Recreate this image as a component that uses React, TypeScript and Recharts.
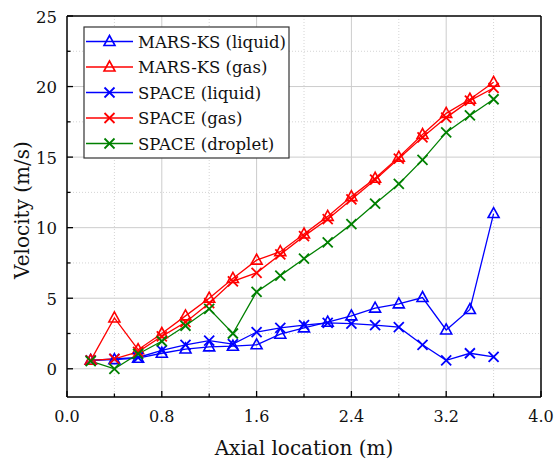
import React from 'react';
import { LineChart, Line, XAxis, YAxis, CartesianGrid, ReferenceLine } from 'recharts';

const xs = [0.2, 0.4, 0.6, 0.8, 1.0, 1.2, 1.4, 1.6, 1.8, 2.0, 2.2, 2.4, 2.6, 2.8, 3.0, 3.2, 3.4, 3.6];
const marsLiquid = [0.6, 0.65, 0.75, 1.1, 1.4, 1.55, 1.6, 1.7, 2.45, 2.9, 3.3, 3.75, 4.3, 4.6, 5.05, 2.75, 4.2, 11.0];
const marsGas = [0.6, 3.6, 1.35, 2.5, 3.75, 5.0, 6.4, 7.7, 8.3, 9.55, 10.8, 12.2, 13.5, 15.0, 16.6, 18.1, 19.1, 20.3];
const spaceLiquid = [0.6, 0.7, 0.8, 1.3, 1.7, 2.0, 1.75, 2.6, 2.9, 3.1, 3.25, 3.2, 3.1, 2.95, 1.7, 0.6, 1.1, 0.85];
const spaceGas = [0.6, 0.7, 1.2, 2.3, 3.3, 4.65, 6.2, 6.8, 8.1, 9.4, 10.6, 12.0, 13.4, 14.9, 16.4, 17.8, 19.0, 19.9];
const spaceDroplet = [0.55, 0.0, 1.05, 1.95, 3.05, 4.25, 2.5, 5.45, 6.6, 7.8, 8.95, 10.25, 11.7, 13.1, 14.8, 16.75, 17.95, 19.1];

const xTicks = [0, 0.4, 0.8, 1.2, 1.6, 2.0, 2.4, 2.8, 3.2, 3.6, 4.0];
const yTicks = [0, 2.5, 5, 7.5, 10, 12.5, 15, 17.5, 20, 22.5, 25];
const xMajor = [0.8, 1.6, 2.4, 3.2];
const xMinor = [0.4, 1.2, 2.0, 2.8, 3.6];
const yMajor = [0, 5, 10, 15, 20];
const yMinor = [2.5, 7.5, 12.5, 17.5, 22.5];

const seriesDefs = [
  { key: 'marsLiquid', name: 'MARS-KS (liquid)', color: '#0000ff', marker: 'tri' },
  { key: 'marsGas', name: 'MARS-KS (gas)', color: '#ff0000', marker: 'tri' },
  { key: 'spaceLiquid', name: 'SPACE (liquid)', color: '#0000ff', marker: 'x' },
  { key: 'spaceGas', name: 'SPACE (gas)', color: '#ff0000', marker: 'x' },
  { key: 'spaceDroplet', name: 'SPACE (droplet)', color: '#008000', marker: 'x' },
];

const data = xs.map((x, i) => ({
  x,
  marsLiquid: marsLiquid[i],
  marsGas: marsGas[i],
  spaceLiquid: spaceLiquid[i],
  spaceGas: spaceGas[i],
  spaceDroplet: spaceDroplet[i],
}));

const FONT = 'DejaVu Serif';

function Marker({ cx, cy, color, type }: any) {
  if (type === 'tri') {
    return (
      <polygon
        points={`${cx},${cy - 6} ${cx - 5.5},${cy + 4} ${cx + 5.5},${cy + 4}`}
        fill="none"
        stroke={color}
        strokeWidth={1.6}
      />
    );
  }
  const s = 5;
  return (
    <g stroke={color} strokeWidth={1.8}>
      <line x1={cx - s} y1={cy - s} x2={cx + s} y2={cy + s} />
      <line x1={cx - s} y1={cy + s} x2={cx + s} y2={cy - s} />
    </g>
  );
}

const isMult = (v: number, m: number) => Math.abs(v / m - Math.round(v / m)) < 1e-6;

function XTick(props: any) {
  const { x, y, payload } = props;
  const v = payload.value;
  const major = isMult(v, 0.8);
  return (
    <g>
      <line x1={x} x2={x} y1={y} y2={y - (major ? 6 : 3.5)} stroke="#000" strokeWidth={1.3} />
      {major && (
        <text x={x} y={y + 25} textAnchor="middle" style={{ fontFamily: FONT }} fontSize={16} fill="#111">
          {v.toFixed(1)}
        </text>
      )}
    </g>
  );
}

function YTick(props: any) {
  const { x, y, payload } = props;
  const v = payload.value;
  const major = isMult(v, 5);
  return (
    <g>
      <line x1={x} x2={x + (major ? 6 : 3.5)} y1={y} y2={y} stroke="#000" strokeWidth={1.3} />
      {major && (
        <text x={x - 10} y={y + 6.5} textAnchor="end" style={{ fontFamily: FONT }} fontSize={16.5} fill="#111">
          {String(v)}
        </text>
      )}
    </g>
  );
}

export default function App() {
  const legendTop = 27;
  const legendLeft = 84;
  const rowH = 25.5;
  return (
    <div style={{ position: 'absolute', left: 0, top: 0, width: 555, height: 466, background: '#fff' }}>
      <LineChart width={555} height={466} data={data} margin={{ top: 16, right: 14, left: 0, bottom: 0 }}>
        <CartesianGrid
          horizontalValues={yMajor}
          verticalValues={xMajor}
          stroke="#cccccc"
          strokeWidth={1}
        />
        <CartesianGrid
          horizontalValues={yMinor}
          verticalValues={xMinor}
          stroke="#d4d4d4"
          strokeDasharray="1 2"
          strokeWidth={1}
        />
        <XAxis
          dataKey="x"
          type="number"
          domain={[0, 4]}
          ticks={xTicks}
          interval={0}
          height={69}
          tickSize={0}
          tickMargin={0}
          tickLine={false}
          tick={<XTick />}
          axisLine={{ stroke: '#000', strokeWidth: 1.5 }}
          allowDataOverflow
        />
        <YAxis
          type="number"
          domain={[-2, 25]}
          ticks={yTicks}
          interval={0}
          width={67}
          tickSize={0}
          tickMargin={0}
          tickLine={false}
          tick={<YTick />}
          axisLine={{ stroke: '#000', strokeWidth: 1.5 }}
          allowDataOverflow
        />
        <ReferenceLine y={25} stroke="#000" strokeWidth={1.5} />
        <ReferenceLine x={4} stroke="#000" strokeWidth={1.5} />
        {seriesDefs.map((s) => (
          <Line
            key={s.key}
            dataKey={s.key}
            name={s.name}
            stroke={s.color}
            strokeWidth={1.3}
            isAnimationActive={false}
            dot={(p: any) => <Marker key={`${s.key}-${p.index}`} cx={p.cx} cy={p.cy} color={s.color} type={s.marker} />}
            activeDot={false}
          />
        ))}
      </LineChart>
      <svg
        width={555}
        height={466}
        style={{ position: 'absolute', left: 0, top: 0, pointerEvents: 'none' }}
      >
        <text x={304} y={455} textAnchor="middle" style={{ fontFamily: FONT }} fontSize={20} fill="#111">
          Axial location (m)
        </text>
        <text
          transform="translate(29,210) rotate(-90)"
          textAnchor="middle"
          style={{ fontFamily: FONT }}
          fontSize={20}
          fill="#111"
        >
          Velocity (m/s)
        </text>
        <rect x={legendLeft} y={legendTop} width={205} height={131} fill="#fff" stroke="#333" strokeWidth={1.2} />
        {seriesDefs.map((s, i) => {
          const cy = legendTop + 14.5 + i * rowH;
          return (
            <g key={s.key}>
              <line x1={86} x2={133} y1={cy} y2={cy} stroke={s.color} strokeWidth={1.5} />
              <Marker cx={109.5} cy={cy} color={s.color} type={s.marker} />
              <text x={138} y={cy + 6} style={{ fontFamily: FONT }} fontSize={16.5} fill="#111">
                {s.name}
              </text>
            </g>
          );
        })}
      </svg>
    </div>
  );
}
